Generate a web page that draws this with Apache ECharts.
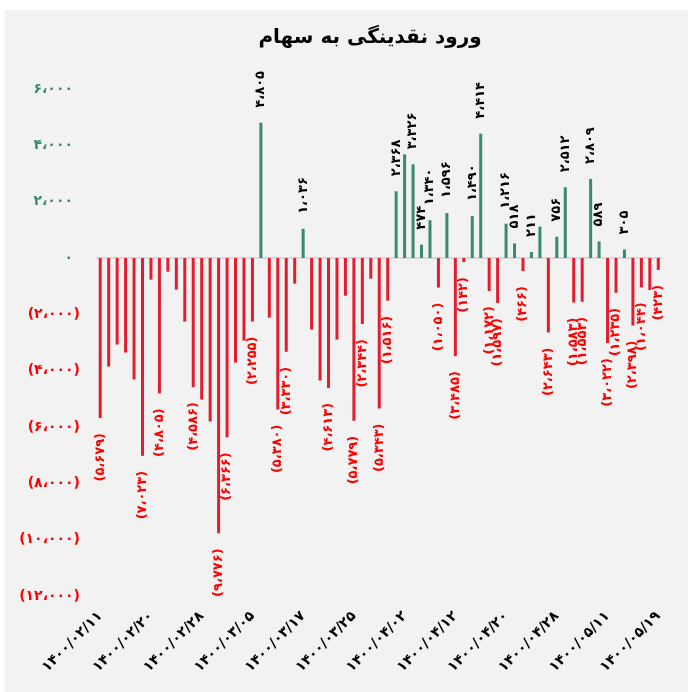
<!DOCTYPE html>
<html><head><meta charset="utf-8">
<script src="https://cdn.jsdelivr.net/npm/echarts@6/dist/echarts.min.js"></script>
<style>
html,body{margin:0;padding:0;background:#fff;}
#wrap{position:relative;width:688px;height:692px;overflow:hidden;}
#bg{position:absolute;left:5px;top:10px;right:0;bottom:0;background:#f2f2f2;}
#c{position:absolute;left:0;top:0;width:688px;height:692px;}
</style></head>
<body><div id="wrap"><div id="bg"></div><div id="c"></div></div>
<script>
const titleText = 'ورود نقدینگی به سهام';
const dates = ['1400/02/11','1400/02/12','1400/02/13','1400/02/15','1400/02/18','1400/02/19','1400/02/20','1400/02/21','1400/02/22','1400/02/25','1400/02/26','1400/02/27','1400/02/28','1400/02/29','1400/03/01','1400/03/02','1400/03/03','1400/03/04','1400/03/05','1400/03/08','1400/03/09','1400/03/10','1400/03/11','1400/03/16','1400/03/17','1400/03/18','1400/03/19','1400/03/22','1400/03/23','1400/03/24','1400/03/25','1400/03/26','1400/03/29','1400/03/30','1400/03/31','1400/04/01','1400/04/02','1400/04/05','1400/04/06','1400/04/07','1400/04/08','1400/04/09','1400/04/12','1400/04/13','1400/04/14','1400/04/15','1400/04/16','1400/04/19','1400/04/20','1400/04/21','1400/04/22','1400/04/23','1400/04/26','1400/04/27','1400/04/28','1400/04/29','1400/05/02','1400/05/03','1400/05/04','1400/05/10','1400/05/11','1400/05/12','1400/05/13','1400/05/16','1400/05/17','1400/05/18','1400/05/19'];
const inflow = [-5679,-3853,-3073,-3357,-4314,-7023,-768,-4805,-485,-1123,-2258,-4586,-5025,-5805,-9776,-6366,-3712,-2933,-2255,4805,-2117,-5380,-3330,-911,1036,-2542,-4351,-4613,-2897,-1337,-5779,-2344,-734,-5343,-1516,2368,3680,3326,474,1340,-1050,1596,-3485,-142,1490,4414,-1172,-1597,1216,518,-466,211,1113,-2643,756,2512,-1583,-1553,2809,589,-3022,-1235,305,-2398,-1044,-1135,-423];
const labeledBars = [0,5,7,11,14,15,18,19,21,22,24,27,30,31,33,34,35,37,38,39,40,41,42,43,44,45,46,47,48,49,50,51,53,54,55,56,57,58,59,60,61,62,63,64,66];
const yMin = -12000, yMax = 6000, yStep = 2000;

const FA = '۰۱۲۳۴۵۶۷۸۹';
function faDigits(s){ return String(s).replace(/[0-9]/g, d => FA[+d]); }
function faNum(n){
  const s = Math.abs(n).toString().replace(/\B(?=(\d{3})+(?!\d))/g, '،');
  return faDigits(s);
}
const GREEN = '#3a8a6c', RED = '#e21e2e', LBLRED = '#ff0000';
const FONT = 'DejaVu Sans';

const data = inflow.map((v, i) => {
  const show = labeledBars.indexOf(i) >= 0;
  const pos = v >= 0;
  return {
    value: v,
    itemStyle: { color: pos ? GREEN : RED },
    label: {
      show: show,
      position: pos ? 'top' : 'bottom',
      rotate: 90,
      align: pos ? 'left' : 'right',
      verticalAlign: 'middle',
      distance: 15,
      color: pos ? '#000' : LBLRED,
      fontFamily: FONT, fontWeight: 'bold', fontSize: 13,
      formatter: pos ? faNum(v) : '(' + faNum(v) + ')'
    }
  };
});

const chart = echarts.init(document.getElementById('c'), null, {renderer: 'canvas'});
chart.setOption({
  backgroundColor: 'transparent',
  animation: false,
  title: {
    text: titleText, left: 365, top: 23, textAlign: 'center',
    textStyle: { fontFamily: FONT, fontWeight: 'bold', fontSize: 20, color: '#000' }
  },
  grid: { left: 96, right: 25.5, top: 89, bottom: 96, containLabel: false },
  xAxis: {
    type: 'category', data: dates.map(faDigits),
    axisLine: { show: false, onZero: false }, axisTick: { show: false },
    axisLabel: { interval: 5, rotate: 45, margin: 18, color: '#000',
      fontFamily: FONT, fontWeight: 'bold', fontSize: 14 }
  },
  yAxis: {
    type: 'value', min: yMin, max: yMax, interval: yStep,
    axisLine: { show: false }, axisTick: { show: false }, splitLine: { show: false },
    axisLabel: {
      margin: 16,
      formatter: v => v === 0 ? '{p|۰}' : (v > 0 ? '{p|' + faNum(v) + '}' : '{n|(' + faNum(v) + ')}'),
      rich: {
        p: { color: GREEN, fontFamily: FONT, fontWeight: 'bold', fontSize: 14, padding: [0, 7, 0, 0] },
        n: { color: LBLRED, fontFamily: FONT, fontWeight: 'bold', fontSize: 14 }
      }
    }
  },
  series: [{
    type: 'bar', data: data, barWidth: 3,
    markLine: {
      silent: true, symbol: 'none', label: { show: false },
      lineStyle: { color: '#d9d9d9', width: 2, type: 'solid' },
      data: [{ yAxis: 0 }], z: 1
    }
  }]
});
</script></body></html>
